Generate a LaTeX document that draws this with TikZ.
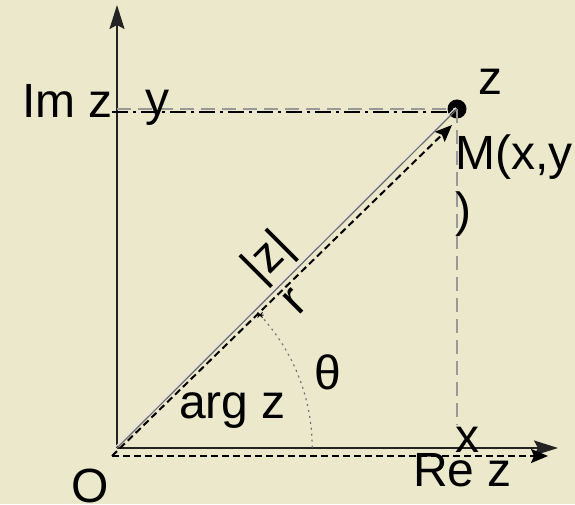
\documentclass[tikz,border=0pt]{standalone}
\usepackage{fontspec}
\setmainfont{Liberation Sans}
\usetikzlibrary{arrows.meta}
\definecolor{parch}{RGB}{236,232,204}
\definecolor{axisc}{RGB}{35,35,35}
\tikzset{
  lbl/.style={inner sep=0pt, font=\fontsize{48}{56}\selectfont, text=black},
  axisline/.style={draw=axisc, line width=2pt, -{Stealth[length=24pt,width=15pt,inset=4pt]}},
  dasharrow/.style={draw=black, line width=2pt, dash pattern=on 7pt off 4pt, -{Stealth[length=17pt,width=14pt,inset=3pt]}},
  graydash/.style={draw=gray!80, line width=1.6pt, dash pattern=on 14pt off 7pt},
  dashdot/.style={draw=black, line width=2pt, dash pattern=on 16pt off 5pt on 3pt off 5pt},
  dot/.style={circle, fill=black, inner sep=0pt, minimum size=19pt},
  arcline/.style={draw=gray!90!black, line width=1.2pt, dash pattern=on 2pt off 4pt},
}
\begin{document}
\begin{tikzpicture}[x=1pt,y=1pt]
\useasboundingbox (0,0) rectangle (575,504);
\fill[parch] (0,0) rectangle (575,504);
% points
\coordinate (O) at (117,56);
\coordinate (ytop) at (117,499);
\coordinate (xend) at (558,56);
\coordinate (O2) at (112,48);
\coordinate (xend2) at (548,48);
\coordinate (Mtip) at (452,379);
\coordinate (ImL) at (112,392);
\coordinate (ImR) at (448,392);
\coordinate (yax) at (117,395);
\coordinate (xfoot) at (457,79);
\coordinate (S) at (260,189);
\node[dot] (M) at (457,395) {};
% axes
\draw[axisline] (O) -- (ytop);
\draw[axisline] (O) -- (xend);
% projections
\draw[graydash] (yax) -- (M.center);
\draw[graydash] (M.center) -- (xfoot);
\draw[dashdot] (ImL) -- (ImR);
% radius
\draw[draw=white!80!gray, line width=1pt] ([xshift=-1.3pt,yshift=1.3pt]O) -- ([xshift=-1.3pt,yshift=1.3pt]M.center);
\draw[draw=gray!85!black, line width=1.2pt] (O) -- (M.center);
\draw[dasharrow] (O2) -- (Mtip);
\draw[dasharrow] (O2) -- (xend2);
% angle arc
\draw[arcline] (S) arc[start angle=42.9, end angle=0, radius=195.3];
\draw[line width=1pt] ([shift={(-3.5,0)}]S) -- ([shift={(3.5,0)}]S)
  ([shift={(-2.5,-2.5)}]S) -- ([shift={(2.5,2.5)}]S)
  ([shift={(-2.5,2.5)}]S) -- ([shift={(2.5,-2.5)}]S);
% labels
\node[lbl, anchor=base west] (imz) at (22,386) {Im z};
\node[lbl, anchor=base west] (ylab) at (145,388) {y};
\node[lbl, anchor=base west] (zlab) at (478,409) {z};
\node[lbl, anchor=base west, align=left] (mlab) at (455,278) {M(x,y\\)};
\node[lbl, rotate=45] (abs) at (269,246) {|z|};
\node[lbl, rotate=45] (rlab) at (295,202) {r};
\node[lbl] (theta) at (328,132) {θ};
\node[lbl, anchor=base west] (arg) at (179,86) {arg z};
\node[lbl, anchor=base west] (xlab) at (455,52) {x};
\node[lbl, anchor=base west] (rez) at (413,18) {Re z};
\node[lbl, anchor=base west] (olab) at (71,2) {O};
\end{tikzpicture}
\end{document}
